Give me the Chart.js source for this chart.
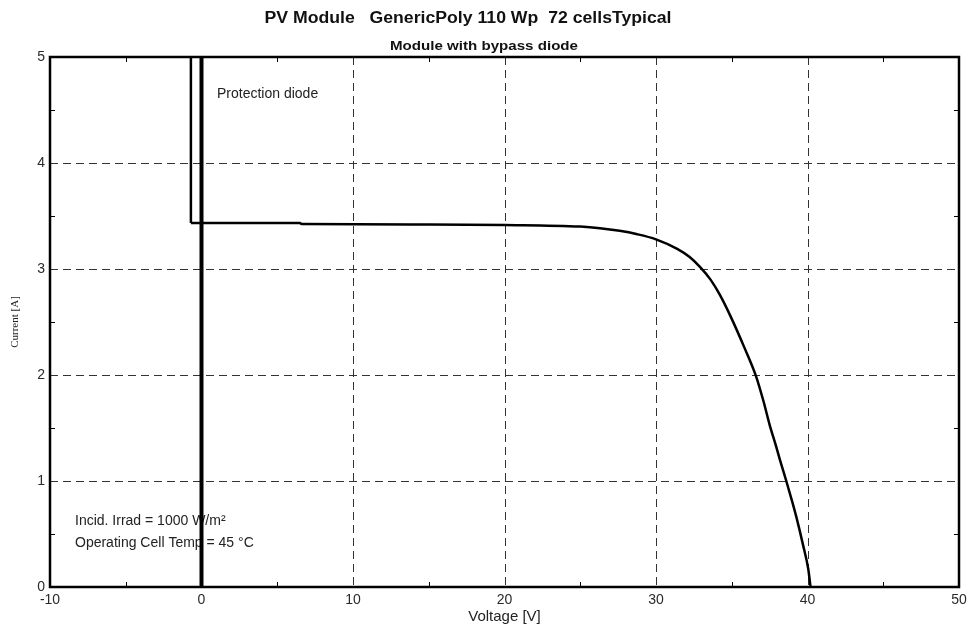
<!DOCTYPE html>
<html>
<head>
<meta charset="utf-8">
<script src="https://cdn.jsdelivr.net/npm/chart.js@4/dist/chart.umd.min.js"></script>
<style>
html,body{margin:0;padding:0;background:#fff;}
#wrap{width:967px;height:628px;position:relative;}
</style>
</head>
<body>
<div id="wrap"><canvas id="c" width="967" height="628"></canvas></div>
<script>
// ---- data ----
const bypassVoltage = [-0.7, -0.7];
const bypassCurrent = [5.0, 3.435];
const curveVoltage = [-0.7, 0, 6.5, 6.6, 15, 20, 25, 26.3, 27.6, 28.7, 30.0, 31.4, 32.2, 32.9, 33.6, 34.2, 34.9, 35.8, 36.6, 37.1, 37.5, 37.9, 38.2, 38.6, 39.0, 39.3, 39.7, 40.05, 40.2];
const curveCurrent = [3.435, 3.435, 3.434, 3.425, 3.42, 3.415, 3.40, 3.385, 3.36, 3.33, 3.28, 3.19, 3.115, 3.02, 2.90, 2.76, 2.56, 2.27, 1.99, 1.75, 1.53, 1.34, 1.19, 1.0, 0.80, 0.64, 0.40, 0.17, 0.0];
const diodeVoltage = [0, 0];
const diodeCurrent = [0, 5];
const xTickValues = [-10, 0, 10, 20, 30, 40, 50];
const yTickValues = [0, 1, 2, 3, 4, 5];
const titleText = 'PV Module   GenericPoly 110 Wp  72 cellsTypical';
const subtitleText = 'Module with bypass diode';
const noteDiode = 'Protection diode';
const noteIrrad = 'Incid. Irrad = 1000 W/m²';
const noteTemp = 'Operating Cell Temp = 45 °C';

const toPts = (xs, ys) => xs.map((x, i) => ({x: x, y: ys[i]}));

const FONT = "'Liberation Sans', Arial, sans-serif";

const decor = {
  id: 'decor',
  beforeDatasetsDraw(chart) {
    const {ctx, chartArea: a, scales: {x, y}} = chart;
    ctx.save();
    // dashed grid
    ctx.strokeStyle = '#333';
    ctx.lineWidth = 1;
    ctx.setLineDash([8, 5]);
    xTickValues.forEach(v => {
      if (v === x.min || v === x.max) return;
      const px = Math.round(x.getPixelForValue(v)) + 0.5;
      ctx.beginPath(); ctx.moveTo(px, a.top); ctx.lineTo(px, a.bottom); ctx.stroke();
    });
    yTickValues.forEach(v => {
      if (v === y.min || v === y.max) return;
      const py = Math.round(y.getPixelForValue(v)) + 0.5;
      ctx.beginPath(); ctx.moveTo(a.left, py); ctx.lineTo(a.right, py); ctx.stroke();
    });
    ctx.setLineDash([]);
    // minor ticks (half intervals)
    ctx.strokeStyle = '#000';
    ctx.lineWidth = 1;
    for (let i = 0; i < xTickValues.length - 1; i++) {
      const v = (xTickValues[i] + xTickValues[i + 1]) / 2;
      const px = Math.round(x.getPixelForValue(v)) + 0.5;
      ctx.beginPath(); ctx.moveTo(px, a.top); ctx.lineTo(px, a.top + 5); ctx.stroke();
      ctx.beginPath(); ctx.moveTo(px, a.bottom); ctx.lineTo(px, a.bottom - 5); ctx.stroke();
    }
    for (let i = 0; i < yTickValues.length - 1; i++) {
      const v = (yTickValues[i] + yTickValues[i + 1]) / 2;
      const py = Math.round(y.getPixelForValue(v)) + 0.5;
      ctx.beginPath(); ctx.moveTo(a.left, py); ctx.lineTo(a.left + 5, py); ctx.stroke();
      ctx.beginPath(); ctx.moveTo(a.right, py); ctx.lineTo(a.right - 5, py); ctx.stroke();
    }
    // annotations
    ctx.fillStyle = '#222';
    ctx.font = '14px ' + FONT;
    ctx.textAlign = 'left';
    ctx.textBaseline = 'middle';
    ctx.fillText(noteDiode, 217, 94);
    ctx.fillText(noteIrrad, 75, 521);
    ctx.fillText(noteTemp, 75, 543);
    ctx.restore();
  },
  afterDatasetsDraw(chart) {
    const {ctx, chartArea: a} = chart;
    ctx.save();
    ctx.strokeStyle = '#000';
    ctx.lineWidth = 2.5;
    ctx.strokeRect(a.left, a.top, a.right - a.left, a.bottom - a.top);
    ctx.restore();
  },
  afterDraw(chart) {
    const {ctx} = chart;
    const drawFit = (text, font, cx, cy, w) => {
      ctx.save();
      ctx.font = font;
      const m = ctx.measureText(text).width;
      ctx.translate(cx, cy);
      ctx.scale(w / m, 1);
      ctx.textAlign = 'center';
      ctx.textBaseline = 'middle';
      ctx.fillStyle = '#111';
      ctx.fillText(text, 0, 0);
      ctx.restore();
    };
    drawFit(titleText, 'bold 16px ' + FONT, 468, 19, 407);
    drawFit(subtitleText, 'bold 12.5px ' + FONT, 484, 47, 188);
  }
};

const lineDs = (pts, w, smooth) => ({
  data: pts,
  showLine: true,
  borderColor: '#000',
  borderWidth: w,
  pointRadius: 0,
  tension: smooth ? 0.4 : 0,
  cubicInterpolationMode: smooth ? 'monotone' : 'default',
  fill: false
});

new Chart(document.getElementById('c'), {
  type: 'scatter',
  data: {
    datasets: [
      lineDs(toPts(bypassVoltage, bypassCurrent), 2.5, false),
      lineDs(toPts(curveVoltage, curveCurrent), 2.5, true),
      lineDs(toPts(diodeVoltage, diodeCurrent), 4, false)
    ]
  },
  options: {
    responsive: false,
    animation: false,
    layout: {padding: {top: 57, right: 8, left: 0, bottom: 0}},
    plugins: {legend: {display: false}, tooltip: {enabled: false}, title: {display: false}},
    scales: {
      x: {
        type: 'linear', min: -10, max: 50,
        afterFit(s) { s.height = 41; s.paddingLeft = 0; s.paddingRight = 0; },
        afterBuildTicks(s) { s.ticks = xTickValues.map(v => ({value: v})); },
        grid: {display: false, drawTicks: false},
        border: {display: false},
        ticks: {color: '#2a2a2a', font: {size: 14, family: FONT}, padding: 5, maxRotation: 0, autoSkip: false,
                callback: v => String(v)},
        title: {display: true, text: 'Voltage [V]', color: '#222', font: {size: 15, family: FONT}, padding: {top: 0, bottom: 2}}
      },
      y: {
        type: 'linear', min: 0, max: 5,
        afterFit(s) { s.width = 50; s.paddingTop = 0; s.paddingBottom = 0; },
        afterBuildTicks(s) { s.ticks = yTickValues.map(v => ({value: v})); },
        grid: {display: false, drawTicks: false},
        border: {display: false},
        ticks: {color: '#2a2a2a', font: {size: 14, family: FONT}, padding: 5, autoSkip: false,
                callback: v => String(v)},
        title: {display: true, text: 'Current [A]', color: '#222', font: {size: 11, family: "'Liberation Serif', 'Times New Roman', serif"}, padding: {top: 9, bottom: 0}}
      }
    }
  },
  plugins: [decor]
});
</script>
</body>
</html>
